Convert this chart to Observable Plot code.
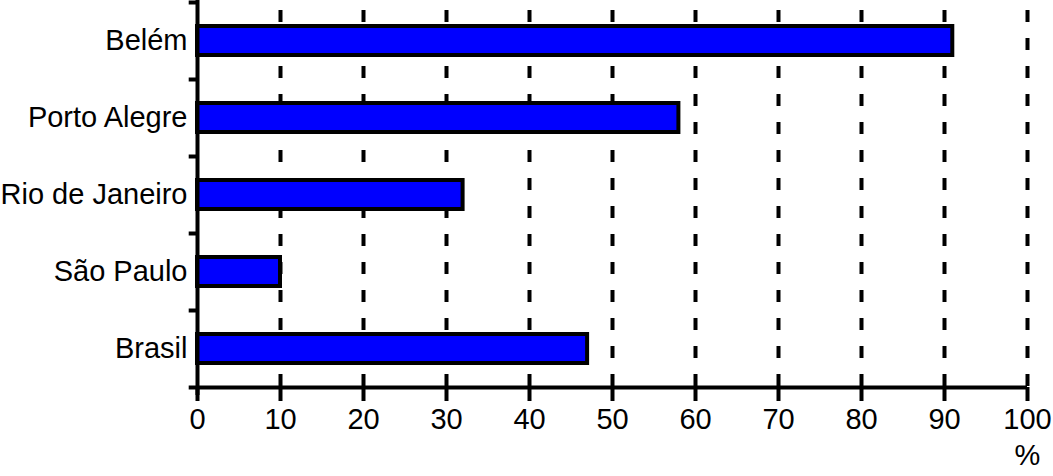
<!DOCTYPE html>
<html>
<head>
<meta charset="utf-8">
<script src="https://cdn.jsdelivr.net/npm/d3@7"></script>
<script src="https://cdn.jsdelivr.net/npm/@observablehq/plot@0.6"></script>
<style>
  html, body { margin: 0; padding: 0; background: #fff; }
</style>
</head>
<body>
<div id="chart"></div>
<script>
const categories = ["Belém", "Porto Alegre", "Rio de Janeiro", "São Paulo", "Brasil"];
const values = [91, 58, 32, 10, 47];
const xTicks = [0, 10, 20, 30, 40, 50, 60, 70, 80, 90, 100];
const gridTicks = [10, 20, 30, 40, 50, 60, 70, 80, 90, 100];
const unitLabel = "%";

const data = categories.map((name, i) => ({name, value: values[i]}));

const W = 1053, H = 476, mTop = 2, mBottom = 89;
const step = (H - mTop - mBottom) / categories.length;
const FS = 29;

const chart = Plot.plot({
  width: W,
  height: H,
  marginTop: mTop,
  marginBottom: mBottom,
  marginLeft: 197,
  marginRight: 26,
  style: {fontFamily: "'Liberation Sans', Arial, sans-serif", fontSize: FS + "px", color: "black", background: "white", overflow: "visible"},
  x: {domain: [0, 100]},
  y: {domain: categories, padding: 0},
  marks: [
    Plot.ruleX(gridTicks, {stroke: "black", strokeWidth: 4, strokeDasharray: "12,16", strokeDashoffset: 20}),
    Plot.barX(data, {x: "value", y: "name", fill: "#0000ff", stroke: "black", strokeWidth: 4, insetTop: 24, insetBottom: 24}),
    Plot.ruleX([0], {stroke: "black", strokeWidth: 4, insetTop: -2, insetBottom: -8}),
    Plot.ruleY(categories, {y: d => d, x1: -1, x2: 0, dy: -step / 2, stroke: "black", strokeWidth: 4}),
    Plot.ruleY([categories[categories.length - 1]], {y: d => d, x1: -1, x2: 100, dy: step / 2, stroke: "black", strokeWidth: 4}),
    Plot.axisX({ticks: xTicks, tickSize: 14, tickPadding: 7, strokeWidth: 4, label: null, fontSize: FS, tickFormat: d => String(d)}),
    Plot.axisY({tickSize: 0, tickPadding: 10, label: null, fontSize: FS}),
    Plot.text([unitLabel], {x: () => 100, text: d => d, frameAnchor: "bottom", dy: 77, fontSize: FS, fill: "black"})
  ]
});
document.getElementById("chart").appendChild(chart);
</script>
</body>
</html>
